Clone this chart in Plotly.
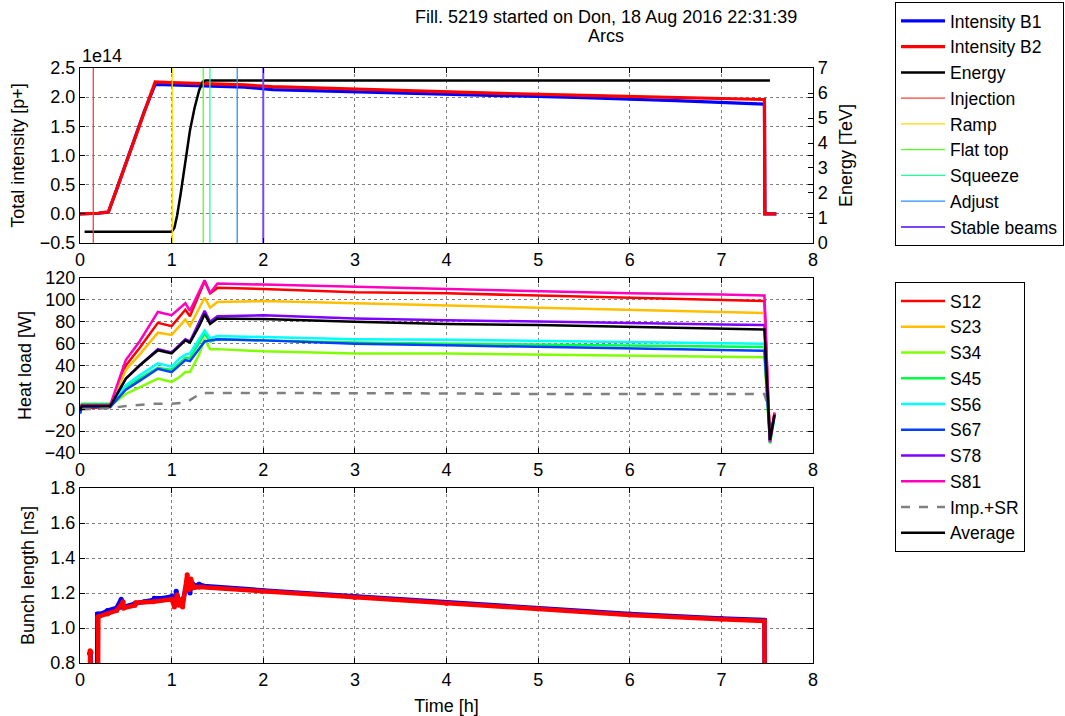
import plotly.graph_objects as go

# ---------------- data ----------------
# Beam intensities [p+] vs time [h]
t_int = [0, 0.15, 0.2, 0.25, 0.31, 0.4, 0.5, 0.6, 0.7, 0.82, 1.0, 1.4, 1.8, 2.1,
         3.5, 4.5, 5.5, 6.5, 7.47, 7.475, 7.6]
int_b1 = [0, 0, 0.01e14, 0.02e14, 0.03e14, 0.42e14, 0.86e14, 1.30e14, 1.75e14, 2.22e14,
          2.21e14, 2.19e14, 2.17e14, 2.13e14, 2.07e14, 2.04e14, 1.99e14, 1.94e14, 1.88e14, 0, 0]
int_b2 = [0, 0, 0.01e14, 0.02e14, 0.03e14, 0.42e14, 0.86e14, 1.30e14, 1.75e14, 2.26e14,
          2.25e14, 2.23e14, 2.21e14, 2.18e14, 2.11e14, 2.07e14, 2.03e14, 2.00e14, 1.96e14, 0, 0]

# Beam energy [TeV]
t_en = [0.05, 1.0, 1.03, 1.06, 1.1, 1.15, 1.2, 1.25, 1.3, 1.34, 1.37, 7.53]
energy = [0.45, 0.45, 0.6, 1.1, 2.0, 3.3, 4.5, 5.4, 6.1, 6.45, 6.5, 6.5]

# Beam mode changes [h]
phase_names = ["Injection", "Ramp", "Flat top", "Squeeze", "Adjust", "Stable beams"]
phase_t = [0.145, 1.007, 1.345, 1.418, 1.716, 2.0]

# Arc heat loads [W]
t_hl = [0, 0.02, 0.33, 0.5, 0.65, 0.85, 1.0, 1.08, 1.15, 1.2, 1.3, 1.36, 1.42, 1.5,
        2.0, 3.0, 4.0, 5.0, 6.0, 7.0, 7.47, 7.53, 7.58]
sector_names = ["S12", "S23", "S34", "S45", "S56", "S67", "S78", "S81"]
hl_s12 = [-3, 1, 2, 40, 56, 79, 76, 84, 91, 85, 106, 117, 106, 111, 110, 107, 106, 104, 102, 100, 99, -29, -4]
hl_s23 = [0, 3, 3, 36, 50, 70, 68, 75, 82, 76, 93, 102, 93, 98, 99, 97, 95, 93, 91, 89, 88, -27, -3]
hl_s34 = [1, 3, 3, 14, 20, 28, 25, 29, 34, 34, 50, 64, 55, 55, 53, 51, 51, 50, 49, 48, 47.5, -31, -6]
hl_s45 = [2, 5, 5, 20, 28, 38, 36, 42, 47, 47, 60, 69, 62, 64, 63, 61, 60, 59, 58.5, 57, 57, -31, -7]
hl_s56 = [1, 4, 4, 22, 31, 42, 39, 46, 50, 51, 64, 72, 65, 67, 66, 64, 63.5, 62.5, 61.5, 60.5, 60, -30, -6]
hl_s67 = [-4, 2, 2, 18, 26, 37, 34, 40, 45, 44, 56, 62, 63, 64, 63, 60, 58.5, 57, 55.5, 54, 53.5, -29, -5]
hl_s78 = [0, 3, 3, 28, 40, 55, 52, 58, 64, 62, 79, 90, 80, 85, 86, 83, 81.5, 80, 79, 77.5, 77, -28, -4]
hl_s81 = [2, 4, 4, 45, 62, 89, 86, 92, 97, 90, 108, 118, 106, 115, 114, 112, 110, 108, 106, 105, 104, -30, -3]
hl_avg = [-1, 3, 3, 28, 40, 54, 51, 57, 63, 61, 76, 87, 78, 83, 82.5, 80, 78, 77, 75.5, 74, 73, -28, -5]

# Impedance + synchrotron radiation heat load [W]
t_imp = [0.02, 0.33, 0.5, 0.8, 1.0, 1.15, 1.33, 2.0, 3.0, 4.0, 5.0, 6.0, 7.0, 7.47, 7.5]
hl_imp = [0, 1, 3, 5, 5, 6, 15, 15, 14.5, 14.5, 14, 14, 14, 14, 5]

# Bunch length [ns]
t_bl1 = [0.10, 0.105, 0.115, 0.12, 0.18, 0.19, 0.25, 0.3, 0.4, 0.45, 0.46, 0.55, 0.6,
         0.7, 0.8, 0.81, 0.9, 1.0, 1.03, 1.05, 1.07, 1.1, 1.13, 1.17, 1.2, 1.22, 1.26,
         1.3, 1.35, 2.0, 3.0, 4.0, 5.0, 6.0, 7.0, 7.47, 7.48]
bl_b1 = [0, 0.855, 0.865, 0, 0, 1.08, 1.085, 1.10, 1.115, 1.165, 1.12, 1.13, 1.14,
         1.15, 1.16, 1.17, 1.17, 1.18, 1.14, 1.21, 1.17, 1.15, 1.17, 1.27, 1.20, 1.26, 1.24,
         1.25, 1.24, 1.215, 1.18, 1.145, 1.11, 1.08, 1.055, 1.045, 0]
t_bl2 = [0.10, 0.11, 0.12, 0.125, 0.19, 0.20, 0.3, 0.4, 0.47, 0.48, 0.6, 0.61, 0.8,
         1.0, 1.03, 1.06, 1.08, 1.1, 1.12, 1.15, 1.17, 1.19, 1.21, 1.24, 1.3, 2.0, 3.0,
         4.0, 5.0, 6.0, 7.0, 7.47, 7.48]
bl_b2 = [0, 0.87, 0.86, 0, 0, 1.065, 1.08, 1.10, 1.15, 1.115, 1.13, 1.145, 1.15,
         1.165, 1.12, 1.19, 1.13, 1.16, 1.12, 1.22, 1.305, 1.22, 1.28, 1.23, 1.235, 1.21, 1.175,
         1.14, 1.11, 1.075, 1.05, 1.04, 0]

# Tick labels for the intensity axis (scaled by 1e14)
int_tickvals = [-0.5e14, 0, 0.5e14, 1.0e14, 1.5e14, 2.0e14, 2.5e14]
int_ticktext = ["\u22120.5", "0.0", "0.5", "1.0", "1.5", "2.0", "2.5"]

# ---------------- styles ----------------
phase_colors = ["#ff3c3c", "#ffd800", "#55ff22", "#22ff99", "#2b8fff", "#7744ff"]
phase_widths = [1.3, 1.3, 1.3, 1.3, 1.3, 2]
sector_colors = ["#ff0000", "#ffbf00", "#80ff00", "#00ff40", "#00ffff", "#0040ff", "#8000ff", "#ff00bf"]
FONT = "Liberation Sans, Arial, sans-serif"
FS = 18
LEG_FS = 17.5

fig = go.Figure()

# Top panel: intensities and energy
fig.add_trace(go.Scatter(x=t_int, y=int_b1, mode="lines", name="Intensity B1",
                         line=dict(color="#0000ff", width=3.2), xaxis="x", yaxis="y", legend="legend"))
fig.add_trace(go.Scatter(x=t_int, y=int_b2, mode="lines", name="Intensity B2",
                         line=dict(color="#ff0000", width=3.2), xaxis="x", yaxis="y", legend="legend"))
fig.add_trace(go.Scatter(x=t_en, y=energy, mode="lines", name="Energy",
                         line=dict(color="#000000", width=2.5), xaxis="x", yaxis="y4", legend="legend"))
for name, tp, col, w in zip(phase_names, phase_t, phase_colors, phase_widths):
    fig.add_trace(go.Scatter(x=[tp, tp], y=[0, 7], mode="lines", name=name,
                             line=dict(color=col, width=w), xaxis="x", yaxis="y4", legend="legend"))

# Middle panel: heat loads
hl_sectors = [hl_s12, hl_s23, hl_s34, hl_s45, hl_s56, hl_s67, hl_s78, hl_s81]
for name, vals, col in zip(sector_names, hl_sectors, sector_colors):
    fig.add_trace(go.Scatter(x=t_hl, y=vals, mode="lines", name=name,
                             line=dict(color=col, width=2.5), xaxis="x2", yaxis="y2", legend="legend2"))
fig.add_trace(go.Scatter(x=t_imp, y=hl_imp, mode="lines", name="Imp.+SR",
                         line=dict(color="#808080", width=2.5, dash="dash"),
                         xaxis="x2", yaxis="y2", legend="legend2"))
fig.add_trace(go.Scatter(x=t_hl, y=hl_avg, mode="lines", name="Average",
                         line=dict(color="#000000", width=2.5), xaxis="x2", yaxis="y2", legend="legend2"))

# Bottom panel: bunch lengths
fig.add_trace(go.Scatter(x=t_bl1, y=bl_b1, mode="lines+markers", name="B1",
                         line=dict(color="#0000ff", width=4.5), marker=dict(color="#0000ff", size=5),
                         xaxis="x3", yaxis="y3", showlegend=False))
fig.add_trace(go.Scatter(x=t_bl2, y=bl_b2, mode="lines+markers", name="B2",
                         line=dict(color="#ff0000", width=4.5), marker=dict(color="#ff0000", size=5),
                         xaxis="x3", yaxis="y3", showlegend=False))

axis_common = dict(showline=True, linecolor="#000000", linewidth=1.2, mirror="ticks",
                   ticks="inside", ticklen=5, tickcolor="#000000",
                   showgrid=True, gridcolor="#808080", griddash="dot", gridwidth=1,
                   zeroline=False, tickfont=dict(size=FS, color="#000000"))
xcommon = dict(axis_common, range=[0, 8], dtick=1, tick0=0)

legend_common = dict(xanchor="left", yanchor="top", bordercolor="#000000", borderwidth=1,
                     bgcolor="white", font=dict(size=LEG_FS), tracegroupgap=0, itemwidth=44)

fig.update_layout(
    width=1065, height=716,
    margin=dict(l=80, r=252, t=68, b=53, autoexpand=False),
    paper_bgcolor="white", plot_bgcolor="white",
    font=dict(family=FONT, size=FS, color="#000000"),
    xaxis=dict(xcommon, anchor="y", domain=[0, 1]),
    yaxis=dict(axis_common, domain=[0.7059, 1.0], range=[-0.5e14, 2.5e14],
               tickvals=int_tickvals, ticktext=int_ticktext,
               title=dict(text="Total intensity [p+]", font=dict(size=FS), standoff=10)),
    yaxis4=dict(axis_common, overlaying="y", side="right", anchor="x", range=[0, 7], dtick=1,
                showgrid=False, mirror=False,
                title=dict(text="Energy [TeV]", font=dict(size=FS), standoff=12)),
    xaxis2=dict(xcommon, anchor="y2", domain=[0, 1]),
    yaxis2=dict(axis_common, domain=[0.3529, 0.647], range=[-40, 120], dtick=20,
                title=dict(text="Heat load [W]", font=dict(size=FS), standoff=8)),
    xaxis3=dict(xcommon, anchor="y3", domain=[0, 1], automargin=False,
                title=dict(text="Time [h]", font=dict(size=FS))),
    yaxis3=dict(axis_common, domain=[0, 0.294], range=[0.8, 1.8], dtick=0.2, tickformat=".1f",
                title=dict(text="Bunch length [ns]", font=dict(size=FS), standoff=10)),
    legend=dict(legend_common, x=(895 - 80) / 733, y=(663 - 2) / 595),
    legend2=dict(legend_common, x=(895 - 80) / 733, y=(663 - 282) / 595),
    annotations=[
        dict(text="Fill. 5219 started on Don, 18 Aug 2016 22:31:39",
             xref="paper", yref="paper", x=0.7176, y=(663 - 17) / 595,
             xanchor="center", yanchor="middle", showarrow=False, font=dict(size=FS)),
        dict(text="Arcs",
             xref="paper", yref="paper", x=0.7176, y=(663 - 36) / 595,
             xanchor="center", yanchor="middle", showarrow=False, font=dict(size=FS)),
        dict(text="1e14", xref="paper", yref="paper", x=0.0, y=1.0, xanchor="left",
             yanchor="bottom", showarrow=False, font=dict(size=FS)),
    ],
)

fig.write_html("out.html")
